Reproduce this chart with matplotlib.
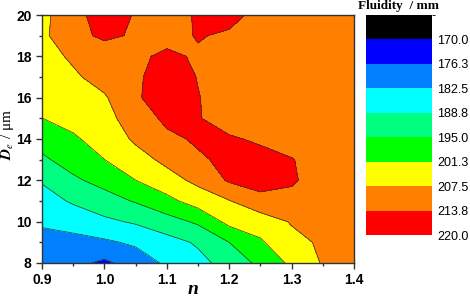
import matplotlib

matplotlib.use("Agg")
import matplotlib.pyplot as plt
from matplotlib.colors import ListedColormap, BoundaryNorm
import numpy as np

# grid axes: n (columns) and grain size D_e in um (rows)
n_values = [0.90, 0.95, 1.00, 1.05, 1.10, 1.15, 1.20, 1.25, 1.30, 1.35, 1.40]
de_values = [8, 9, 10, 11, 12, 13, 14, 15, 16, 17, 18, 19, 20]

# fluidity / mm, one row per D_e (8 -> 20)
row_08 = [179.5, 178.0, 175.0, 179.0, 183.5, 187.0, 191.0, 196.5, 202.5, 208.0, 209.0]
row_09 = [180.5, 180.5, 181.5, 183.5, 186.5, 189.5, 195.0, 200.5, 205.5, 208.5, 209.0]
row_10 = [183.3, 185.0, 187.5, 189.5, 192.5, 196.0, 203.0, 204.0, 208.0, 209.5, 209.5]
row_11 = [186.2, 189.5, 192.5, 195.5, 199.5, 204.0, 207.2, 212.0, 212.0, 210.5, 210.0]
row_12 = [189.3, 194.0, 197.0, 201.2, 205.0, 209.0, 214.5, 216.0, 214.5, 211.0, 210.0]
row_13 = [194.0, 197.5, 201.2, 205.0, 209.0, 213.0, 215.0, 215.0, 214.0, 211.5, 210.5]
row_14 = [197.3, 200.5, 203.5, 208.5, 212.5, 214.5, 214.2, 213.2, 211.5, 210.5, 210.0]
row_15 = [201.2, 203.0, 205.5, 210.5, 215.0, 214.0, 212.0, 211.5, 211.0, 210.5, 210.0]
row_16 = [203.5, 205.0, 206.8, 213.2, 216.0, 213.9, 212.0, 211.5, 211.0, 210.5, 210.0]
row_17 = [204.0, 206.5, 210.0, 213.0, 216.0, 213.6, 212.0, 211.5, 211.0, 210.5, 210.0]
row_18 = [205.0, 208.5, 211.5, 213.0, 214.5, 213.3, 212.5, 212.0, 211.0, 210.5, 210.5]
row_19 = [206.0, 212.5, 214.5, 213.3, 212.5, 214.0, 213.2, 212.0, 211.5, 211.0, 211.0]
row_20 = [205.5, 212.5, 215.5, 213.5, 212.0, 214.2, 215.0, 212.5, 211.5, 211.0, 211.0]

levels = [163.75, 170.0, 176.25, 182.5, 188.75, 195.0, 201.25, 207.5, 213.75, 220.0]
level_labels = ["170.0", "176.3", "182.5", "188.8", "195.0", "201.3", "207.5", "213.8", "220.0"]
colors = ["#000000", "#0000ff", "#0080ff", "#00ffff", "#00ff80",
          "#00ff00", "#ffff00", "#ff8000", "#ff0000"]

z = np.array([row_08, row_09, row_10, row_11, row_12, row_13, row_14,
              row_15, row_16, row_17, row_18, row_19, row_20])
x, y = np.meshgrid(n_values, de_values)

cmap = ListedColormap(colors)
norm = BoundaryNorm(levels, cmap.N)

plt.rcParams["mathtext.fontset"] = "stix"

fig = plt.figure(figsize=(4.7, 2.97), dpi=100)
ax = fig.add_axes([42 / 470, 1 - 263 / 297, 312 / 470, 248 / 297])

cs = ax.contourf(x, y, z, levels=levels, cmap=cmap, norm=norm)
ax.contour(x, y, z, levels=levels[1:-1], colors="#333333", linewidths=0.5)

ax.set_xlim(0.9, 1.4)
ax.set_ylim(8, 20)
ax.set_xticks([0.9, 1.0, 1.1, 1.2, 1.3, 1.4])
ax.set_xticks([0.95, 1.05, 1.15, 1.25, 1.35], minor=True)
ax.set_yticks([8, 10, 12, 14, 16, 18, 20])
ax.set_yticks([9, 11, 13, 15, 17, 19], minor=True)
ax.tick_params(which="both", direction="out", color="#333333", width=1)
ax.tick_params(which="major", length=4)
ax.tick_params(which="minor", length=2.5)
for lab in ax.get_xticklabels() + ax.get_yticklabels():
    lab.set_fontweight("bold")
    lab.set_fontsize(10)
    lab.set_fontfamily("Liberation Sans")
for sp in ax.spines.values():
    sp.set_color("#333333")
    sp.set_linewidth(1)

# axis titles placed by hand, as in the original figure
fig.text(193 / 470, 1 - 289 / 297, "n", ha="center", va="center",
         fontfamily="Liberation Serif", fontstyle="italic", fontweight="bold", fontsize=14)
fig.text(8 / 470, 1 - 134 / 297, r"$\mathbfit{D}_{\mathit{e}}$ / μm", ha="center", va="center",
         rotation=90, fontfamily="Liberation Serif", fontsize=11)

# colorbar, black on top, value labels at lower box edges
cax = fig.add_axes([366 / 470, 1 - 235 / 297, 66 / 470, 220 / 297])
cb = fig.colorbar(cs, cax=cax)
cb.outline.set_visible(False)
cax.invert_yaxis()
cb.set_ticks(levels[1:])
cb.set_ticklabels(level_labels)
cax.tick_params(length=0, pad=4, labelsize=9)
for lab in cax.get_yticklabels():
    lab.set_fontfamily("Liberation Sans")
fig.text(399 / 470, 1 - 6 / 297, "Fluidity  / mm", ha="center", va="center",
         fontfamily="Liberation Serif", fontweight="bold", fontsize=9.5)

fig.savefig("out.png", dpi=100)
